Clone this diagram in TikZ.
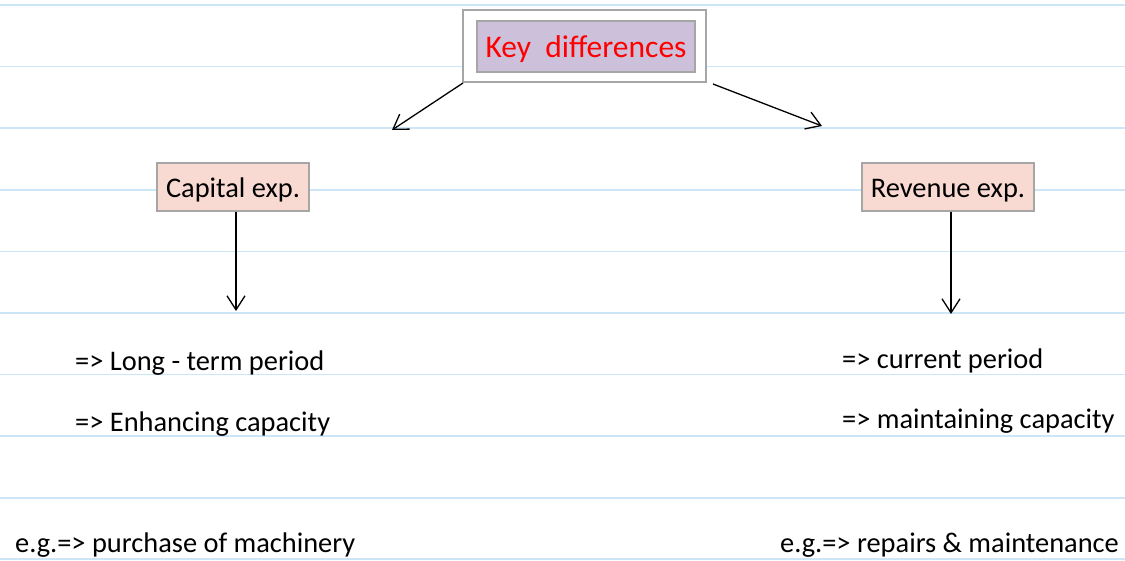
\documentclass[tikz,border=0pt]{standalone}
\usepackage{fontspec}
\setmainfont{Carlito}
\usetikzlibrary{arrows.meta}
\definecolor{ruled}{HTML}{CCE6F7}
\definecolor{framegray}{HTML}{A6A6A6}
\definecolor{lavender}{HTML}{CCC0DA}
\definecolor{blush}{HTML}{F8DAD2}
\tikzset{
  paper/.style={draw=ruled, line width=1.6pt},
  boxed/.style={draw=framegray, line width=1.2pt, inner sep=0pt, anchor=center},
  headbox/.style={boxed, fill=blush, minimum height=48pt},
  label/.style={inner sep=0pt, anchor=base west, font=\fontsize{28.4}{32}\selectfont},
  pointer/.style={draw=black, line width=1.3pt, -{Straight Barb[length=14pt,width=18pt,line width=1.3pt]}},
}
\begin{document}
\begin{tikzpicture}[x=1pt, y=-1pt]
  \useasboundingbox (0,0) rectangle (1125,560);
  \fill[white] (0,0) rectangle (1125,560);
  % ruled lines of the notebook page
  \foreach \yy in {5,66.6,128.2,189.8,251.4,313,374.6,436.2,497.8,559} {
    \draw[paper] (0,\yy) -- (1125,\yy);
  }
  % title boxes
  \node[boxed, fill=white, minimum width=243pt, minimum height=72pt] (keyframe) at (584.5,46) {};
  \node[boxed, fill=lavender, minimum width=218pt, minimum height=51pt] (key) at (586,46.5) {};
  \node[inner sep=0pt, anchor=base, text=red, font=\fontsize{31.5}{36}\selectfont] (keytext) at (586,57) {Key\ \ differences};
  % category boxes
  \node[headbox, minimum width=152pt] (cap) at (233,187) {};
  \node[inner sep=0pt, anchor=base, font=\fontsize{28.4}{32}\selectfont] (captext) at (233,197) {Capital exp.};
  \node[headbox, minimum width=172pt] (rev) at (948,187) {};
  \node[inner sep=0pt, anchor=base, font=\fontsize{28.4}{32}\selectfont] (revtext) at (948,197) {Revenue exp.};
  % arrow ends
  \coordinate (lstart) at (463,83);
  \coordinate (rstart) at (713,84);
  \coordinate (lend) at (392,130);
  \coordinate (rend) at (822,126);
  \coordinate (capend) at (236,311);
  \coordinate (revend) at (951,314);
  \draw[pointer] (lstart) -- (lend);
  \draw[pointer] (rstart) -- (rend);
  \draw[pointer] (cap.south -| capend) -- (capend);
  \draw[pointer] (rev.south -| revend) -- (revend);
  % points
  \node[label] (l1) at (75,370) {=> Long - term period};
  \node[label] (l2) at (75,431) {=> Enhancing capacity};
  \node[label] (r1) at (842,368) {=> current period};
  \node[label] (r2) at (842,428) {=> maintaining capacity};
  \node[label] (l3) at (15,552) {e.g.=> purchase of machinery};
  \node[label] (r3) at (780,552) {e.g.=> repairs \& maintenance};
\end{tikzpicture}
\end{document}
